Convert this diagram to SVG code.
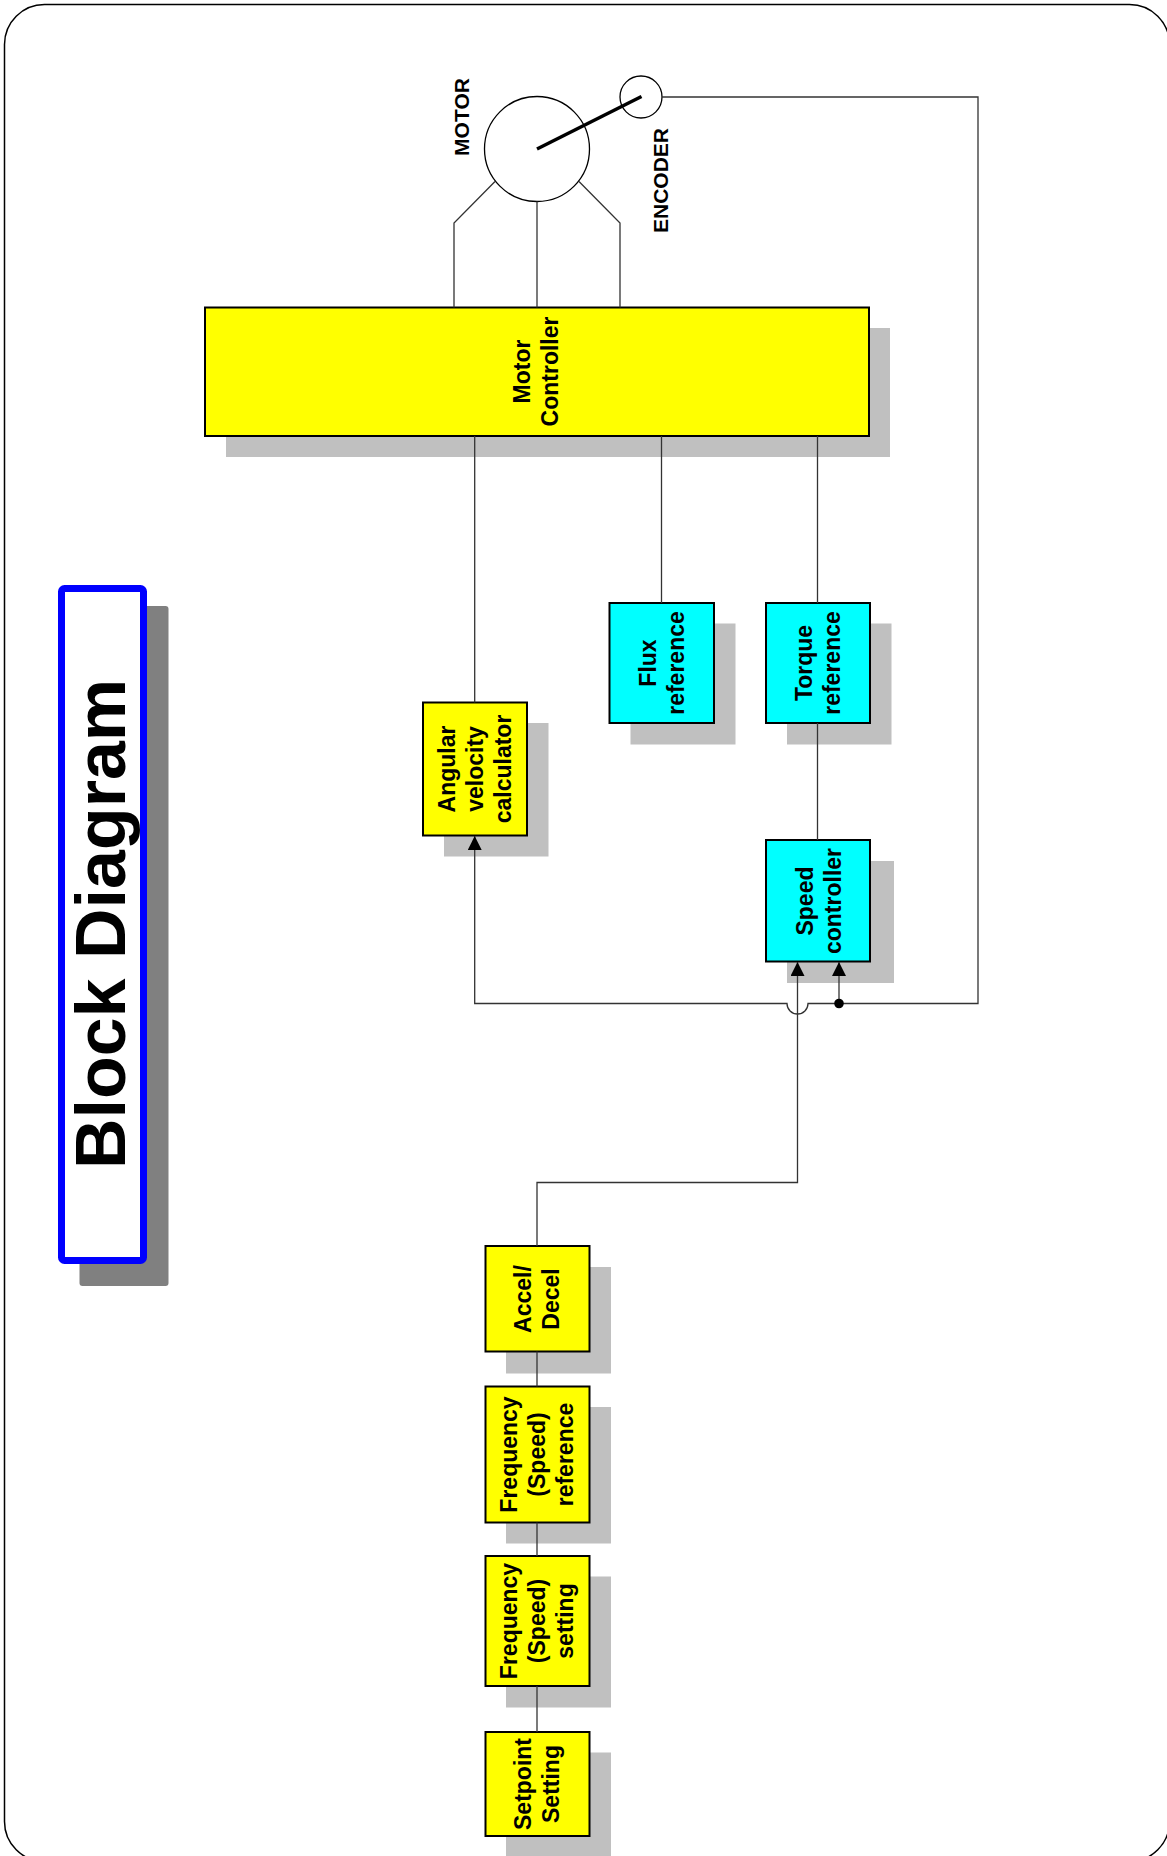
<svg xmlns="http://www.w3.org/2000/svg" width="1167" height="1856" viewBox="0 0 1167 1856">
<style>
.frame{fill:#fff;stroke:#000;stroke-width:1.5}
.shadow{fill:#c0c0c0}
.y{fill:#ffff00;stroke:#000;stroke-width:2}
.c{fill:#00ffff;stroke:#000;stroke-width:2}
.lbl{font-family:"Liberation Sans",Arial,sans-serif;font-weight:bold;font-size:23px;fill:#000;text-anchor:middle}
.small{font-family:"Liberation Sans",Arial,sans-serif;font-weight:bold;font-size:21px;fill:#000;text-anchor:middle}
.wire{fill:none;stroke:#333;stroke-width:1.3}
.mot{fill:#fff;stroke:#000;stroke-width:1.3}
</style>
<defs>
<marker id="arr" markerUnits="userSpaceOnUse" markerWidth="14" markerHeight="14" viewBox="0 0 12 12" refX="12" refY="6" orient="auto">
<path d="M0,0 L12,6 L0,12 z" fill="#000"/>
</marker>
</defs>
<rect class="frame" x="4.5" y="4.5" width="1165" height="1857" rx="40" ry="40"/>

<g id="title">
<rect x="79.5" y="606" width="89" height="680" rx="3" fill="#808080"/>
<rect x="61.5" y="588.5" width="82" height="672" rx="3" fill="#fff" stroke="#0000ff" stroke-width="7"/>
<text transform="translate(125,924) rotate(-90)" font-family="'Liberation Sans',Arial,sans-serif" font-weight="bold" font-size="70" text-anchor="middle">Block Diagram</text>
</g>

<g id="motor">
<circle class="mot" cx="537" cy="149" r="52.5"/>
<text class="small" transform="translate(461.5,117) rotate(-90)" y="7.5">MOTOR</text>
</g>
<g id="encoder">
<circle class="mot" cx="641" cy="97" r="21"/>
<text class="small" transform="translate(660,180.5) rotate(-90)" y="7.5">ENCODER</text>
</g>
<line x1="537" y1="149" x2="641.5" y2="96.5" stroke="#000" stroke-width="3.5"/>

<g id="motor-controller">
<rect class="shadow" x="226" y="328" width="664" height="129"/>
<rect class="y" x="205" y="307.5" width="664" height="128.5"/>
<text class="lbl" transform="translate(536,371.5) rotate(-90)"><tspan x="0" y="-5.8">Motor</tspan><tspan x="0" y="22.2">Controller</tspan></text>
</g>

<g id="angular-velocity-calculator">
<rect class="shadow" x="444" y="723" width="104.5" height="133.5"/>
<rect class="y" x="423" y="702.5" width="104" height="133"/>
<text class="lbl" transform="translate(475,769) rotate(-90)"><tspan x="0" y="-19.8">Angular</tspan><tspan x="0" y="8.2">velocity</tspan><tspan x="0" y="36.2">calculator</tspan></text>
</g>

<g id="flux-reference">
<rect class="shadow" x="630.5" y="623.5" width="105" height="121"/>
<rect class="y c" x="609.5" y="603" width="104.5" height="120"/>
<text class="lbl" transform="translate(662,663) rotate(-90)"><tspan x="0" y="-5.8">Flux</tspan><tspan x="0" y="22.2">reference</tspan></text>
</g>

<g id="torque-reference">
<rect class="shadow" x="787" y="623.5" width="104.5" height="121"/>
<rect class="c" x="766" y="603" width="104" height="120"/>
<text class="lbl" transform="translate(818,663) rotate(-90)"><tspan x="0" y="-5.8">Torque</tspan><tspan x="0" y="22.2">reference</tspan></text>
</g>

<g id="speed-controller">
<rect class="shadow" x="787" y="861" width="107" height="122"/>
<rect class="c" x="766" y="840" width="104" height="121.5"/>
<text class="lbl" transform="translate(819,901) rotate(-90)"><tspan x="0" y="-5.8">Speed</tspan><tspan x="0" y="22.2">controller</tspan></text>
</g>

<g id="accel-decel">
<rect class="shadow" x="506" y="1267" width="105" height="106.5"/>
<rect class="y" x="485.5" y="1246" width="104" height="105.5"/>
<text class="lbl" transform="translate(537,1299) rotate(-90)"><tspan x="0" y="-5.8">Accel/</tspan><tspan x="0" y="22.2">Decel</tspan></text>
</g>

<g id="frequency-reference">
<rect class="shadow" x="506" y="1407" width="105" height="136.5"/>
<rect class="y" x="485.5" y="1386.5" width="104" height="136"/>
<text class="lbl" transform="translate(537,1454.5) rotate(-90)"><tspan x="0" y="-19.8">Frequency</tspan><tspan x="0" y="8.2">(Speed)</tspan><tspan x="0" y="36.2">reference</tspan></text>
</g>

<g id="frequency-setting">
<rect class="shadow" x="506" y="1576.5" width="105" height="131"/>
<rect class="y" x="485.5" y="1556" width="104" height="130"/>
<text class="lbl" transform="translate(537,1621) rotate(-90)"><tspan x="0" y="-19.8">Frequency</tspan><tspan x="0" y="8.2">(Speed)</tspan><tspan x="0" y="36.2">setting</tspan></text>
</g>

<g id="setpoint-setting">
<rect class="shadow" x="506" y="1752.5" width="105" height="105"/>
<rect class="y" x="485.5" y="1732" width="104" height="104"/>
<text class="lbl" transform="translate(537,1784) rotate(-90)"><tspan x="0" y="-5.8">Setpoint</tspan><tspan x="0" y="22.2">Setting</tspan></text>
</g>

<g id="connectors">
<path class="wire" d="M495,181.5 L454,223 V307.5"/>
<path class="wire" d="M537,201.5 V307.5"/>
<path class="wire" d="M579,181.5 L620,223 V307.5"/>
<path class="wire" d="M474.7,436 V702.5"/>
<path class="wire" d="M661.5,436 V603"/>
<path class="wire" d="M817.5,436 V603"/>
<path class="wire" d="M817.5,723 V840"/>
<path class="wire" d="M662,97 H978 V1003.5 H808 A10.5,10.5 0 0 1 787,1003.5 H474.7 V836" marker-end="url(#arr)"/>
<path class="wire" d="M537,1246 V1182.5 H797.5 V962" marker-end="url(#arr)"/>
<path class="wire" d="M839,1003.5 V962" marker-end="url(#arr)"/>
<circle cx="839" cy="1003.5" r="4.8" fill="#000"/>
<path class="wire" d="M537,1351.5 V1386.5"/>
<path class="wire" d="M537,1522.5 V1556"/>
<path class="wire" d="M537,1686 V1732"/>
</g>
</svg>
